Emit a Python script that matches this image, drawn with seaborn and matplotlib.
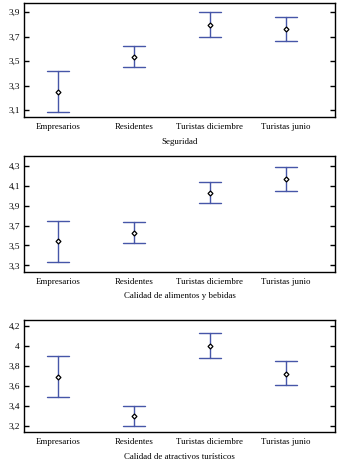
import numpy as np
import pandas as pd
import matplotlib
matplotlib.use("Agg")
import matplotlib.pyplot as plt
import seaborn as sns
from matplotlib.ticker import FuncFormatter, FixedLocator

groups = ["Empresarios", "Residentes", "Turistas diciembre", "Turistas junio"]
titles = ["Seguridad", "Calidad de alimentos y bebidas", "Calidad de atractivos turísticos"]

seg_mean = [3.25, 3.538, 3.799, 3.761]
seg_low = [3.084, 3.451, 3.696, 3.663]
seg_up = [3.418, 3.622, 3.900, 3.859]

ali_mean = [3.542, 3.629, 4.025, 4.169]
ali_low = [3.330, 3.521, 3.924, 4.045]
ali_up = [3.743, 3.733, 4.136, 4.287]

atr_mean = [3.692, 3.294, 3.999, 3.722]
atr_low = [3.484, 3.193, 3.876, 3.605]
atr_up = [3.896, 3.397, 4.126, 3.845]

seg_ticks = [3.1, 3.3, 3.5, 3.7, 3.9]
ali_ticks = [3.3, 3.5, 3.7, 3.9, 4.1, 4.3]
atr_ticks = [3.2, 3.4, 3.6, 3.8, 4.0, 4.2]

panels = [
    (seg_mean, seg_low, seg_up, seg_ticks, (3.045, 3.975)),
    (ali_mean, ali_low, ali_up, ali_ticks, (3.233, 4.40)),
    (atr_mean, atr_low, atr_up, atr_ticks, (3.136, 4.26)),
]

sns.set_style("white")
plt.rcParams["font.family"] = ["Liberation Serif", "DejaVu Serif"]
plt.rcParams["axes.linewidth"] = 1.0
plt.rcParams["text.color"] = "black"
plt.rcParams["xtick.color"] = "black"
plt.rcParams["ytick.color"] = "black"
plt.rcParams["axes.labelcolor"] = "black"

fig = plt.figure(figsize=(3.39, 4.65), dpi=100)
rects = [
    [24 / 339, 1 - 117 / 465, 311 / 339, 114 / 465],
    [24 / 339, 1 - 272 / 465, 311 / 339, 116 / 465],
    [24 / 339, 1 - 432 / 465, 311 / 339, 112 / 465],
]

blue = "#4656a8"


def fmt(v, pos):
    s = ("%.1f" % v)
    if s.endswith(".0"):
        s = s[:-2]
    return s.replace(".", ",")


for (mean, low, up, ticks, ylim), rect, title in zip(panels, rects, titles):
    ax = fig.add_axes(rect)
    df = pd.DataFrame({
        "grupo": groups * 3,
        "valor": list(low) + list(mean) + list(up),
    })
    sns.pointplot(data=df, x="grupo", y="valor", order=groups,
                  estimator="median", errorbar=("pi", 100),
                  linestyle="none", markers="", capsize=0.29,
                  color=blue, err_kws={"linewidth": 1.0}, ax=ax)
    mdf = pd.DataFrame({"grupo": groups, "valor": mean})
    sns.pointplot(data=mdf, x="grupo", y="valor", order=groups,
                  errorbar=None, linestyle="none", markers="D",
                  markersize=2.5, markeredgewidth=0.9,
                  markerfacecolor="white", markeredgecolor="black",
                  color="black", ax=ax)
    ax.set_xlim(-0.45, 3.652)
    ax.set_ylim(*ylim)
    ax.yaxis.set_major_locator(FixedLocator(ticks))
    ax.yaxis.set_major_formatter(FuncFormatter(fmt))
    ax.tick_params(axis="y", which="both", direction="in", length=3.5,
                   width=1.0, left=True, right=True, labelsize=6.6, pad=3)
    ax.tick_params(axis="x", length=0, labelsize=6.4, pad=4)
    ax.set_ylabel("")
    ax.set_xlabel(title, fontsize=6.4, labelpad=5)
    for sp in ax.spines.values():
        sp.set_color("black")
        sp.set_linewidth(1.0)

fig.savefig("out.png", dpi=100)
